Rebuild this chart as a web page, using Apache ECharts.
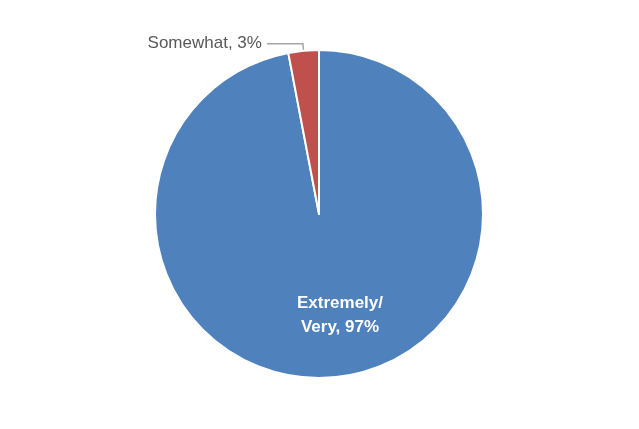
<!DOCTYPE html>
<html>
<head>
<meta charset="utf-8">
<script src="https://cdn.jsdelivr.net/npm/echarts@6/dist/echarts.min.js"></script>
<style>
html,body{margin:0;padding:0;background:#fff;}
#chart{width:639px;height:429px;}
</style>
</head>
<body>
<div id="chart"></div>
<script>
var categories = ['Extremely/\nVery', 'Somewhat'];
var values = [97, 3];
var colors = ['#4F81BD', '#C0504D'];

var chart = echarts.init(document.getElementById('chart'));
var data = categories.map(function (c, i) {
  var d = { name: c, value: values[i], itemStyle: { color: colors[i] } };
  if (i === 0) {
    d.label = {
      position: 'inside',
      color: '#ffffff',
      fontWeight: 'bold',
      fontSize: 17,
      lineHeight: 24,
      offset: [13, 17]
    };
    d.labelLine = { show: false };
  } else {
    d.label = {
      position: 'outside',
      color: '#595959',
      fontSize: 17
    };
    d.labelLine = { show: true, length: 7, length2: 36, lineStyle: { color: '#a6a6a6', width: 1.5 } };
  }
  return d;
});

chart.setOption({
  animation: false,
  backgroundColor: '#ffffff',
  series: [{
    type: 'pie',
    center: [319, 214],
    radius: 164,
    startAngle: 90,
    clockwise: true,
    avoidLabelOverlap: false,
    itemStyle: { borderColor: '#ffffff', borderWidth: 2 },
    label: {
      fontFamily: 'Liberation Sans, Arial, sans-serif',
      formatter: function (p) { return p.name + ', ' + p.value + '%'; }
    },
    labelLine: { showAbove: false },
    emphasis: { disabled: true },
    data: data
  }]
});
</script>
</body>
</html>
